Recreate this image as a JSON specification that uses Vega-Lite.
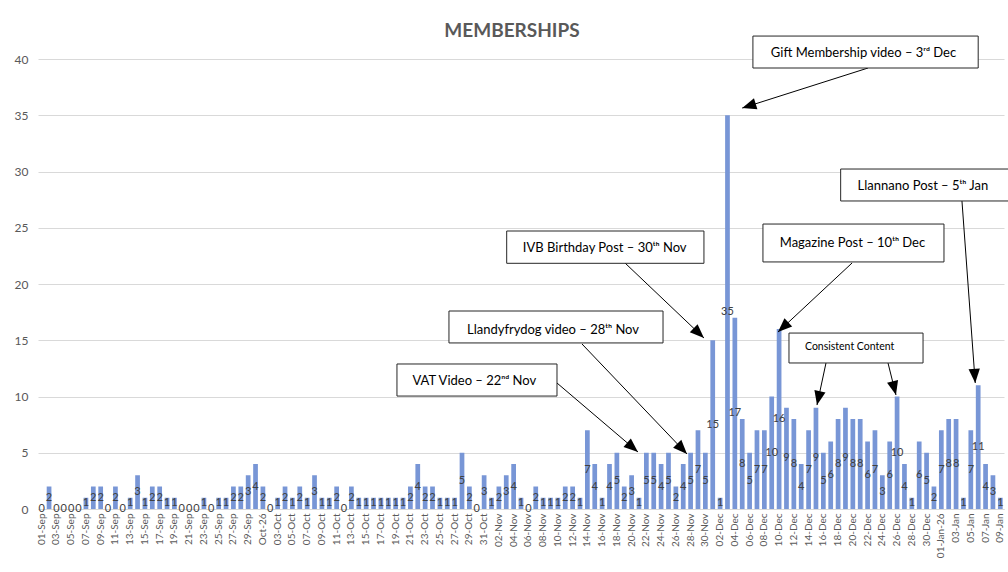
{
  "$schema": "https://vega.github.io/schema/vega-lite/v6.json",
  "width": 966,
  "height": 450,
  "autosize": {"type": "none"},
  "padding": {"left": 38, "top": 59, "right": 4, "bottom": 63},
  "background": "white",
  "title": {"text": "MEMBERSHIPS", "font": "Lato", "fontSize": 19, "fontWeight": "bold", "color": "#595959", "anchor": "middle", "dx": -9, "offset": -5},
  "config": {
    "view": {"stroke": null},
    "font": "Lato",
    "axisY": {"grid": true, "gridColor": "#d9d9d9", "domain": false, "ticks": false, "labelPadding": 10, "labelFontSize": 12, "labelColor": "#595959", "labelFont": "Lato"}
  },
  "datasets": {
    "days": [
      {"day": "01-Sep", "members": 0}, {"day": "02-Sep", "members": 2}, {"day": "03-Sep", "members": 0}, {"day": "04-Sep", "members": 0}, {"day": "05-Sep", "members": 0}, {"day": "06-Sep", "members": 0}, {"day": "07-Sep", "members": 1}, {"day": "08-Sep", "members": 2}, {"day": "09-Sep", "members": 2}, {"day": "10-Sep", "members": 0},
      {"day": "11-Sep", "members": 2}, {"day": "12-Sep", "members": 0}, {"day": "13-Sep", "members": 1}, {"day": "14-Sep", "members": 3}, {"day": "15-Sep", "members": 1}, {"day": "16-Sep", "members": 2}, {"day": "17-Sep", "members": 2}, {"day": "18-Sep", "members": 1}, {"day": "19-Sep", "members": 1}, {"day": "20-Sep", "members": 0},
      {"day": "21-Sep", "members": 0}, {"day": "22-Sep", "members": 0}, {"day": "23-Sep", "members": 1}, {"day": "24-Sep", "members": 0}, {"day": "25-Sep", "members": 1}, {"day": "26-Sep", "members": 1}, {"day": "27-Sep", "members": 2}, {"day": "28-Sep", "members": 2}, {"day": "29-Sep", "members": 3}, {"day": "30-Sep", "members": 4},
      {"day": "Oct-26", "members": 2}, {"day": "02-Oct", "members": 0}, {"day": "03-Oct", "members": 1}, {"day": "04-Oct", "members": 2}, {"day": "05-Oct", "members": 1}, {"day": "06-Oct", "members": 2}, {"day": "07-Oct", "members": 1}, {"day": "08-Oct", "members": 3}, {"day": "09-Oct", "members": 1}, {"day": "10-Oct", "members": 1},
      {"day": "11-Oct", "members": 2}, {"day": "12-Oct", "members": 0}, {"day": "13-Oct", "members": 2}, {"day": "14-Oct", "members": 1}, {"day": "15-Oct", "members": 1}, {"day": "16-Oct", "members": 1}, {"day": "17-Oct", "members": 1}, {"day": "18-Oct", "members": 1}, {"day": "19-Oct", "members": 1}, {"day": "20-Oct", "members": 1},
      {"day": "21-Oct", "members": 2}, {"day": "22-Oct", "members": 4}, {"day": "23-Oct", "members": 2}, {"day": "24-Oct", "members": 2}, {"day": "25-Oct", "members": 1}, {"day": "26-Oct", "members": 1}, {"day": "27-Oct", "members": 1}, {"day": "28-Oct", "members": 5}, {"day": "29-Oct", "members": 2}, {"day": "30-Oct", "members": 0},
      {"day": "31-Oct", "members": 3}, {"day": "01-Nov", "members": 1}, {"day": "02-Nov", "members": 2}, {"day": "03-Nov", "members": 3}, {"day": "04-Nov", "members": 4}, {"day": "05-Nov", "members": 1}, {"day": "06-Nov", "members": 0}, {"day": "07-Nov", "members": 2}, {"day": "08-Nov", "members": 1}, {"day": "09-Nov", "members": 1},
      {"day": "10-Nov", "members": 1}, {"day": "11-Nov", "members": 2}, {"day": "12-Nov", "members": 2}, {"day": "13-Nov", "members": 1}, {"day": "14-Nov", "members": 7}, {"day": "15-Nov", "members": 4}, {"day": "16-Nov", "members": 1}, {"day": "17-Nov", "members": 4}, {"day": "18-Nov", "members": 5}, {"day": "19-Nov", "members": 2},
      {"day": "20-Nov", "members": 3}, {"day": "21-Nov", "members": 1}, {"day": "22-Nov", "members": 5}, {"day": "23-Nov", "members": 5}, {"day": "24-Nov", "members": 4}, {"day": "25-Nov", "members": 5}, {"day": "26-Nov", "members": 2}, {"day": "27-Nov", "members": 4}, {"day": "28-Nov", "members": 5}, {"day": "29-Nov", "members": 7},
      {"day": "30-Nov", "members": 5}, {"day": "01-Dec", "members": 15}, {"day": "02-Dec", "members": 1}, {"day": "03-Dec", "members": 35}, {"day": "04-Dec", "members": 17}, {"day": "05-Dec", "members": 8}, {"day": "06-Dec", "members": 5}, {"day": "07-Dec", "members": 7}, {"day": "08-Dec", "members": 7}, {"day": "09-Dec", "members": 10},
      {"day": "10-Dec", "members": 16}, {"day": "11-Dec", "members": 9}, {"day": "12-Dec", "members": 8}, {"day": "13-Dec", "members": 4}, {"day": "14-Dec", "members": 7}, {"day": "15-Dec", "members": 9}, {"day": "16-Dec", "members": 5}, {"day": "17-Dec", "members": 6}, {"day": "18-Dec", "members": 8}, {"day": "19-Dec", "members": 9},
      {"day": "20-Dec", "members": 8}, {"day": "21-Dec", "members": 8}, {"day": "22-Dec", "members": 6}, {"day": "23-Dec", "members": 7}, {"day": "24-Dec", "members": 3}, {"day": "25-Dec", "members": 6}, {"day": "26-Dec", "members": 10}, {"day": "27-Dec", "members": 4}, {"day": "28-Dec", "members": 1}, {"day": "29-Dec", "members": 6},
      {"day": "30-Dec", "members": 5}, {"day": "31-Dec", "members": 2}, {"day": "01-Jan-26", "members": 7}, {"day": "02-Jan", "members": 8}, {"day": "03-Jan", "members": 8}, {"day": "04-Jan", "members": 1}, {"day": "05-Jan", "members": 7}, {"day": "06-Jan", "members": 11}, {"day": "07-Jan", "members": 4}, {"day": "08-Jan", "members": 3},
      {"day": "09-Jan", "members": 1}
    ],
    "notes": [
      {"note": "Gift Membership video – 3ʳᵈ Dec", "left": 96.45, "right": 127.0, "top": 42.04, "bottom": 39.2, "cx": 111.45, "cy": 40.5},
      {"note": "IVB Birthday Post – 30ᵗʰ Nov", "left": 63.06, "right": 89.81, "top": 24.71, "bottom": 21.84, "cx": 76.35, "cy": 23.2},
      {"note": "Llandyfrydog video – 28ᵗʰ Nov", "left": 55.23, "right": 84.26, "top": 17.6, "bottom": 14.76, "cx": 69.34, "cy": 15.95},
      {"note": "VAT Video – 22ⁿᵈ Nov", "left": 48.18, "right": 69.88, "top": 12.89, "bottom": 10.04, "cx": 58.67, "cy": 11.35},
      {"note": "Magazine Post – 10ᵗʰ Dec", "left": 97.81, "right": 122.36, "top": 25.33, "bottom": 21.96, "cx": 109.95, "cy": 23.64},
      {"note": "Consistent Content", "left": 101.34, "right": 119.52, "top": 15.64, "bottom": 12.98, "cx": 109.57, "cy": 14.36},
      {"note": "Llannano Post – 5ᵗʰ Jan", "left": 108.35, "right": 131.8, "top": 30.22, "bottom": 27.38, "cx": 119.5, "cy": 28.7}
    ],
    "arrows": [
      {"from_x": 112.06, "from_y": 39.2, "to_x": 95.0, "to_y": 35.64},
      {"from_x": 79.1, "from_y": 21.87, "to_x": 89.81, "to_y": 15.2},
      {"from_x": 73.27, "from_y": 14.67, "to_x": 87.51, "to_y": 4.89},
      {"from_x": 69.88, "from_y": 11.2, "to_x": 80.86, "to_y": 5.07},
      {"from_x": 109.9, "from_y": 21.87, "to_x": 99.85, "to_y": 15.73},
      {"from_x": 106.36, "from_y": 12.98, "to_x": 105.14, "to_y": 9.24},
      {"from_x": 114.77, "from_y": 12.98, "to_x": 115.85, "to_y": 10.13},
      {"from_x": 124.8, "from_y": 27.38, "to_x": 126.6, "to_y": 11.2}
    ]
  },
  "layer": [
    {
      "data": {"name": "days"},
      "encoding": {
        "x": {
          "field": "day", "type": "ordinal", "sort": null,
          "scale": {"paddingInner": 0.36, "paddingOuter": 0.18},
          "axis": {
            "title": null, "labelAngle": -90, "labelFontSize": 10, "labelColor": "#595959", "labelFont": "Lato",
            "ticks": false, "domainColor": "#d9d9d9", "labelPadding": 4, "labelOverlap": false,
            "values": ["01-Sep","03-Sep","05-Sep","07-Sep","09-Sep","11-Sep","13-Sep","15-Sep","17-Sep","19-Sep","21-Sep","23-Sep","25-Sep","27-Sep","29-Sep","Oct-26","03-Oct","05-Oct","07-Oct","09-Oct","11-Oct","13-Oct","15-Oct","17-Oct","19-Oct","21-Oct","23-Oct","25-Oct","27-Oct","29-Oct","31-Oct","02-Nov","04-Nov","06-Nov","08-Nov","10-Nov","12-Nov","14-Nov","16-Nov","18-Nov","20-Nov","22-Nov","24-Nov","26-Nov","28-Nov","30-Nov","02-Dec","04-Dec","06-Dec","08-Dec","10-Dec","12-Dec","14-Dec","16-Dec","18-Dec","20-Dec","22-Dec","24-Dec","26-Dec","28-Dec","30-Dec","01-Jan-26","03-Jan","05-Jan","07-Jan","09-Jan"]
          }
        }
      },
      "layer": [
        {
          "mark": {"type": "bar", "color": "#7896d6"},
          "encoding": {
            "y": {"field": "members", "type": "quantitative", "scale": {"domain": [0, 40], "nice": false}, "axis": {"title": null, "values": [0,5,10,15,20,25,30,35,40]}}
          }
        },
        {
          "transform": [{"calculate": "datum.members / 2", "as": "mid"}],
          "mark": {"type": "text", "fontSize": 11, "color": "#404040", "font": "Lato", "baseline": "middle", "align": "center"},
          "encoding": {
            "y": {"field": "mid", "type": "quantitative", "scale": {"domain": [0, 40], "nice": false}, "axis": {"title": null, "values": [0,5,10,15,20,25,30,35,40]}},
            "text": {"field": "members", "type": "quantitative"}
          }
        }
      ]
    },
    {
      "layer": [
        {
          "data": {"name": "arrows"},
          "mark": {"type": "rule", "color": "#000000", "strokeWidth": 1},
          "encoding": {
            "x": {"field": "from_x", "type": "quantitative", "scale": {"domain": [-0.5, 130.5], "nice": false, "zero": false}, "axis": null},
            "x2": {"field": "to_x"},
            "y": {"field": "from_y", "type": "quantitative", "scale": {"domain": [0, 40], "nice": false}, "axis": {"title": null, "values": [0,5,10,15,20,25,30,35,40]}},
            "y2": {"field": "to_y"}
          }
        },
        {
          "data": {"name": "notes"},
          "mark": {"type": "rect", "fill": "white", "stroke": "#262626", "strokeWidth": 1},
          "encoding": {
            "x": {"field": "left", "type": "quantitative", "scale": {"domain": [-0.5, 130.5], "nice": false, "zero": false}, "axis": null},
            "x2": {"field": "right"},
            "y": {"field": "top", "type": "quantitative", "scale": {"domain": [0, 40], "nice": false}, "axis": {"title": null, "values": [0,5,10,15,20,25,30,35,40]}},
            "y2": {"field": "bottom"}
          }
        },
        {
          "data": {"name": "notes"},
          "mark": {"type": "text", "font": "Lato", "color": "#000000", "align": "center", "baseline": "middle"},
          "encoding": {
            "x": {"field": "cx", "type": "quantitative", "scale": {"domain": [-0.5, 130.5], "nice": false, "zero": false}, "axis": null},
            "y": {"field": "cy", "type": "quantitative", "scale": {"domain": [0, 40], "nice": false}, "axis": {"title": null, "values": [0,5,10,15,20,25,30,35,40]}},
            "text": {"field": "note"},
            "size": {"condition": {"test": "datum.note === 'Consistent Content'", "value": 10.5}, "value": 13}
          }
        },
        {
          "data": {"name": "arrows"},
          "transform": [{"calculate": "atan2((datum.to_x - datum.from_x) * 7.374, (datum.to_y - datum.from_y) * 11.25) * 180 / PI", "as": "heading"}],
          "mark": {"type": "point", "shape": "M0,0L-0.8,2L0.8,2Z", "filled": true, "color": "#000000", "size": 200, "opacity": 1},
          "encoding": {
            "x": {"field": "to_x", "type": "quantitative", "scale": {"domain": [-0.5, 130.5], "nice": false, "zero": false}, "axis": null},
            "y": {"field": "to_y", "type": "quantitative", "scale": {"domain": [0, 40], "nice": false}, "axis": {"title": null, "values": [0,5,10,15,20,25,30,35,40]}},
            "angle": {"field": "heading", "type": "quantitative", "scale": null}
          }
        }
      ]
    }
  ],
  "resolve": {"scale": {"x": "independent"}}
}
